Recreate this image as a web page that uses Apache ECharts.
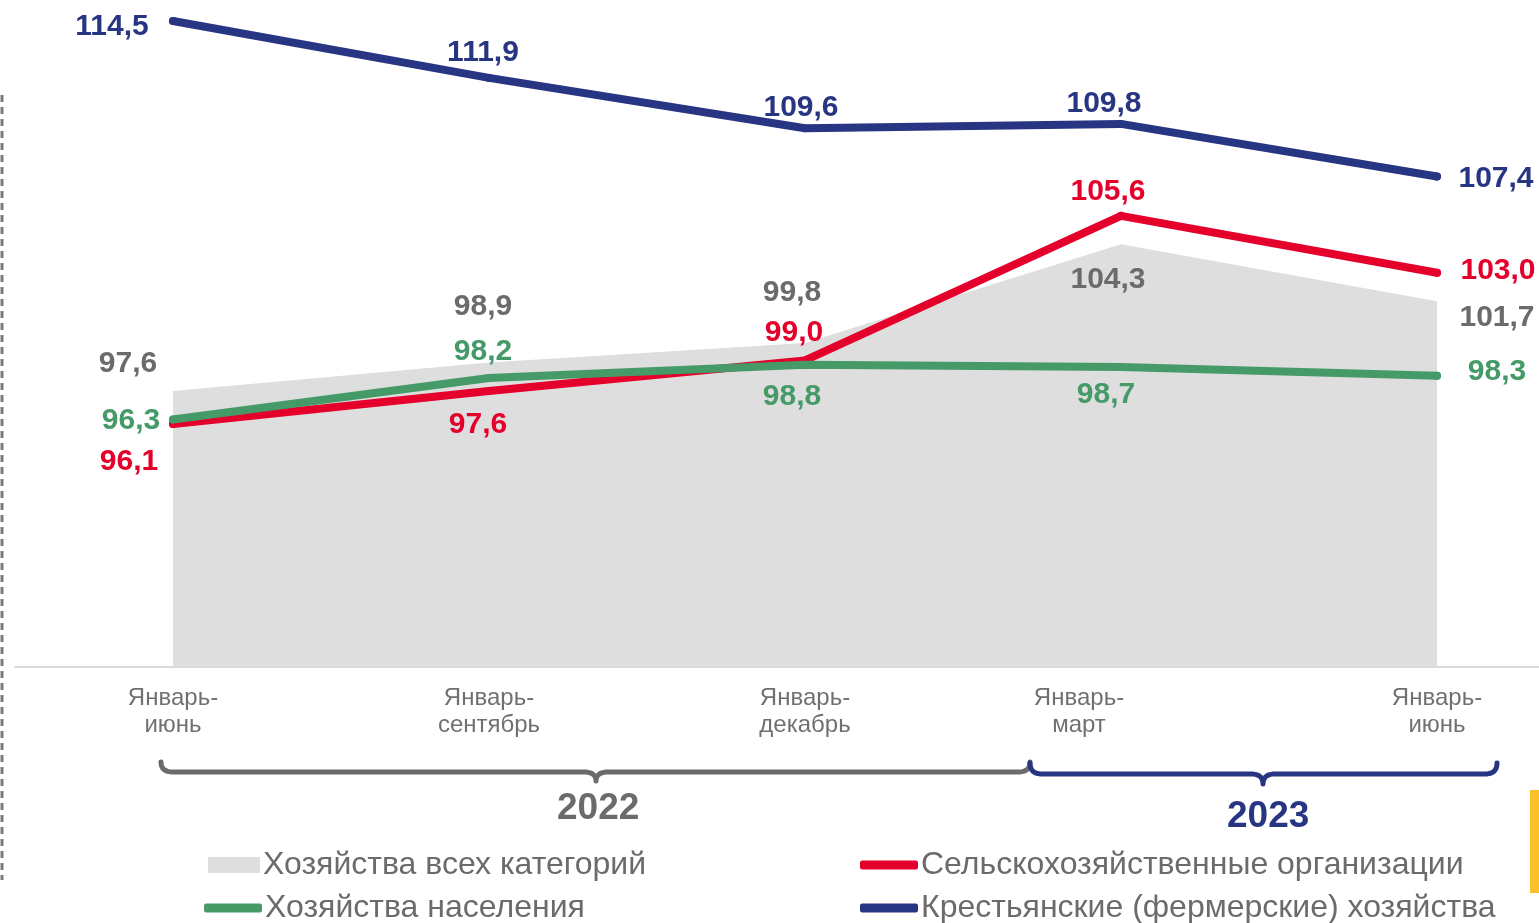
<!DOCTYPE html>
<html><head><meta charset="utf-8">
<script src="https://cdn.jsdelivr.net/npm/echarts@6/dist/echarts.min.js"></script>
<style>html,body{margin:0;padding:0;background:#fff}#c{width:1539px;height:923px}</style>
</head><body><div id="c"></div>
<script>
const categories = ['Январь-\nиюнь', 'Январь-\nсентябрь', 'Январь-\nдекабрь', 'Январь-\nмарт', 'Январь-\nиюнь'];
const allCategories = [97.6, 98.9, 99.8, 104.3, 101.7];
const agriOrgs = [96.1, 97.6, 99.0, 105.6, 103.0];
const households = [96.3, 98.2, 98.8, 98.7, 98.3];
const farms = [114.5, 111.9, 109.6, 109.8, 107.4];
const years = ['2022', '2023'];
const names = ['Хозяйства всех категорий', 'Сельскохозяйственные организации', 'Хозяйства населения', 'Крестьянские (фермерские) хозяйства'];

const FONT = '"Liberation Sans", Arial, sans-serif';
const C_GRAY = '#dedede', C_TXT = '#6b6b6b', C_RED = '#e4002b', C_GREEN = '#459a68', C_BLUE = '#283583';

// label offsets (layout only)
const offAll = [[-45,-27],[-6,-56],[-13,-50],[-13,35],[60,16]];
const offRed = [[-44,38],[-11,34],[-11,-28],[-13,-24],[61,-2]];
const offGreen = [[-42,1],[-6,-26],[-13,32],[-15,28],[60,-4]];
const offBlue = [[-61,6],[-6,-25],[-4,-21],[-17,-20],[59,2]];

function withLabels(vals, offs) {
  return vals.map((v, i) => ({ value: v, label: { offset: offs[i] } }));
}
function fmt(p) { return p.value.toFixed(1).replace('.', ','); }
function lbl(color) {
  return { show: true, position: 'inside', formatter: fmt, color: color, fontFamily: FONT, fontWeight: 'bold', fontSize: 30 };
}
function lineSeries(name, vals, offs, color, z) {
  return {
    name: name, type: 'line', data: withLabels(vals, offs), z: z,
    symbol: 'circle', symbolSize: 8, itemStyle: { color: color },
    lineStyle: { color: color, width: 8, cap: 'round', join: 'round' },
    label: lbl(color), emphasis: { disabled: true }
  };
}
// brace shape: sample quadratic curves into polyline points
function brace(x1, x2, xm, yTop, yLine, yTip) {
  const pts = [];
  function quad(p0, c, p1) {
    for (let t = 0; t <= 1.0001; t += 0.1) {
      const a = (1 - t) * (1 - t), b = 2 * (1 - t) * t, d = t * t;
      pts.push([a * p0[0] + b * c[0] + d * p1[0], a * p0[1] + b * c[1] + d * p1[1]]);
    }
  }
  quad([x1, yTop], [x1, yLine], [x1 + 12, yLine]);
  quad([xm - 12, yLine], [xm, yLine], [xm, yTip]);
  quad([xm, yTip], [xm, yLine], [xm + 12, yLine]);
  quad([x2 - 12, yLine], [x2, yLine], [x2, yTop]);
  return pts;
}

const chart = echarts.init(document.getElementById('c'));
function legend(name, left, top, icon, w, h, color) {
  return {
    data: [{ name: name, icon: icon, itemStyle: { color: color } }], left: left, top: top,
    itemWidth: w, itemHeight: h, itemGap: 0, padding: 0, selectedMode: false,
    textStyle: { fontFamily: FONT, fontSize: 32, color: C_TXT, padding: [0, 0, 0, -2] }
  };
}
const option = {
  animation: false,
  grid: [
    { left: 173, right: 102, top: 10, bottom: 256 },
    { left: 15, right: 0, top: 10, bottom: 256 }
  ],
  xAxis: [
    { type: 'category', gridIndex: 0, data: categories, boundaryGap: false,
      axisLine: { show: false }, axisTick: { show: false },
      axisLabel: { color: '#707070', fontFamily: FONT, fontSize: 24, lineHeight: 27, margin: 18,
        formatter: (v, i) => i === 3 ? v.split('\n').map(s => '{m|' + s + '}').join('\n') : v,
        rich: { m: { color: '#707070', fontFamily: FONT, fontSize: 24, lineHeight: 27, padding: [0, 84, 0, 0] } } } },
    { type: 'value', gridIndex: 1, min: 0, max: 1, axisLine: { show: true, lineStyle: { color: '#d9d9d9', width: 2 } },
      axisTick: { show: false }, axisLabel: { show: false }, splitLine: { show: false } }
  ],
  yAxis: [
    { type: 'value', gridIndex: 0, min: 85, max: 115, show: false },
    { type: 'value', gridIndex: 1, min: 0, max: 1, show: false }
  ],
  legend: [
    legend(names[0], 208, 849, 'rect', 52, 16, C_GRAY),
    legend(names[2], 204, 892, 'roundRect', 58, 9, C_GREEN),
    legend(names[1], 860, 849, 'roundRect', 58, 9, C_RED),
    legend(names[3], 860, 892, 'roundRect', 58, 9, C_BLUE)
  ],
  series: [
    { name: names[0], type: 'line', data: withLabels(allCategories, offAll), z: 1,
      symbol: 'circle', symbolSize: 1, itemStyle: { color: C_GRAY },
      lineStyle: { color: C_GRAY, width: 0 }, areaStyle: { color: C_GRAY, opacity: 1 },
      label: lbl(C_TXT), emphasis: { disabled: true } },
    lineSeries(names[1], agriOrgs, offRed, C_RED, 3),
    lineSeries(names[2], households, offGreen, C_GREEN, 4),
    lineSeries(names[3], farms, offBlue, C_BLUE, 5)
  ],
  graphic: [
    { type: 'line', shape: { x1: 2, y1: 95, x2: 2, y2: 880 }, style: { stroke: '#7a7a7a', lineWidth: 3, lineDash: [7, 5] } },
    { type: 'rect', shape: { x: 1530, y: 790, width: 9, height: 103 }, style: { fill: '#fbbf2a' } },
    { type: 'polyline', shape: { points: brace(161, 1030, 596, 762, 772, 781) },
      style: { stroke: '#6b6b6b', lineWidth: 5, fill: null, lineCap: 'round', lineJoin: 'round' } },
    { type: 'polyline', shape: { points: brace(1030, 1497, 1263, 763, 774, 784) },
      style: { stroke: C_BLUE, lineWidth: 5, fill: null, lineCap: 'round', lineJoin: 'round' } },
    { type: 'text', left: 557, top: 790, style: { text: years[0], fill: '#6b6b6b', font: 'bold 37px ' + FONT } },
    { type: 'text', left: 1227, top: 798, style: { text: years[1], fill: C_BLUE, font: 'bold 37px ' + FONT } }
  ]
};
chart.setOption(option);
</script>
</body></html>
